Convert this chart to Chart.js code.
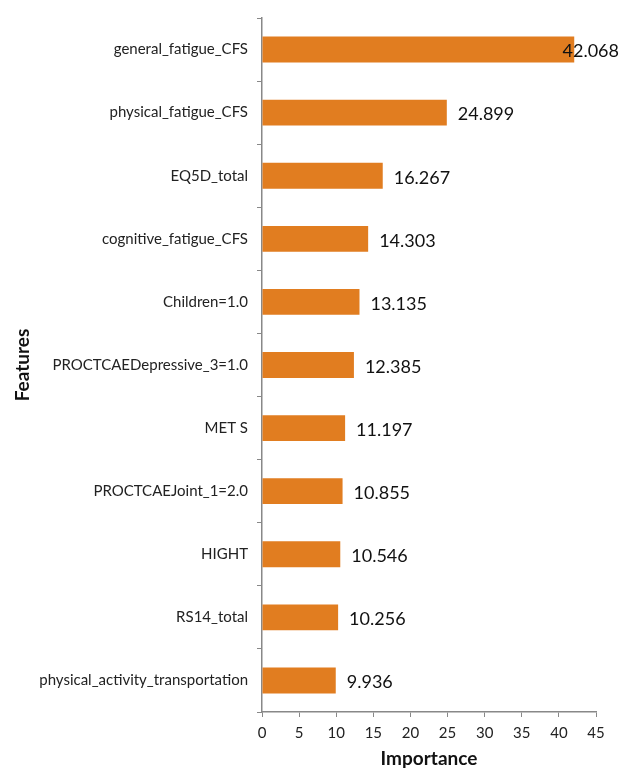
<!DOCTYPE html>
<html>
<head>
<meta charset="utf-8">
<script src="https://cdn.jsdelivr.net/npm/chart.js@4.4.0/dist/chart.umd.min.js"></script>
<style>
  html, body { margin: 0; padding: 0; background: #fff; }
  #wrap { width: 621px; height: 770px; }
</style>
</head>
<body>
<div id="wrap"><canvas id="importanceChart" width="621" height="770"></canvas></div>
<script>
var features = [
    'general_fatigue_CFS',
    'physical_fatigue_CFS',
    'EQ5D_total',
    'cognitive_fatigue_CFS',
    'Children=1.0',
    'PROCTCAEDepressive_3=1.0',
    'MET S',
    'PROCTCAEJoint_1=2.0',
    'HIGHT',
    'RS14_total',
    'physical_activity_transportation'
];
var importance = [42.068, 24.899, 16.267, 14.303, 13.135, 12.385, 11.197, 10.855, 10.546, 10.256, 9.936];
var xTicks = [0, 5, 10, 15, 20, 25, 30, 35, 40, 45];

var fontFam = 'Lato, "Open Sans", sans-serif';

// value labels right of each bar, pulled back if they run off the canvas
var valueLabels = {
    id: 'valueLabels',
    afterDatasetsDraw: function (chart) {
        var ctx = chart.ctx;
        var meta = chart.getDatasetMeta(0);
        ctx.save();
        ctx.font = '18px ' + fontFam;
        ctx.fillStyle = '#111';
        ctx.textBaseline = 'middle';
        meta.data.forEach(function (bar, i) {
            var txt = importance[i].toFixed(3);
            var w = ctx.measureText(txt).width;
            var x = bar.x + 11;
            if (x + w > chart.width - 2) {
                x = chart.width - 2 - w;
            }
            ctx.fillText(txt, x, bar.y + 2);
        });
        ctx.restore();
    }
};

var ctx = document.getElementById('importanceChart');
var myBarChart = new Chart(ctx, {
    type: 'bar',
    data: {
        labels: features,
        datasets: [{
            label: 'Importance',
            data: importance,
            backgroundColor: 'rgb(225,125,32)',
            borderWidth: 0,
            barPercentage: 0.41,
            categoryPercentage: 1.0
        }]
    },
    options: {
        indexAxis: 'y',
        responsive: false,
        animation: false,
        layout: { padding: { top: 10, right: 25, left: 0, bottom: 0 } },
        plugins: {
            legend: { display: false },
            tooltip: { enabled: false }
        },
        scales: {
            x: {
                min: 0,
                max: 45,
                afterBuildTicks: function (scale) {
                    scale.ticks = xTicks.map(function (v) { return { value: v }; });
                },
                afterFit: function (scale) { scale.height = 58; },
                grid: {
                    drawOnChartArea: false,
                    drawTicks: true,
                    tickLength: 5,
                    tickColor: '#888'
                },
                border: { color: '#888', width: 1.5 },
                ticks: {
                    padding: 7,
                    color: '#222',
                    font: { family: fontFam, size: 15 }
                },
                title: {
                    display: true,
                    text: 'Importance',
                    color: '#111',
                    font: { family: fontFam, size: 19, weight: 'bold' },
                    padding: { top: 4, bottom: 0 }
                }
            },
            y: {
                afterFit: function (scale) { scale.width = 262; },
                grid: {
                    drawOnChartArea: false,
                    drawTicks: true,
                    tickLength: 5,
                    tickColor: '#888'
                },
                border: { color: '#888', width: 1.5 },
                ticks: {
                    padding: 9,
                    color: '#222',
                    font: { family: fontFam, size: 15 }
                },
                title: {
                    display: true,
                    text: 'Features',
                    color: '#111',
                    font: { family: fontFam, size: 19, weight: 'bold' },
                    padding: { top: 11, bottom: 0 }
                }
            }
        }
    },
    plugins: [valueLabels]
});
</script>
</body>
</html>
